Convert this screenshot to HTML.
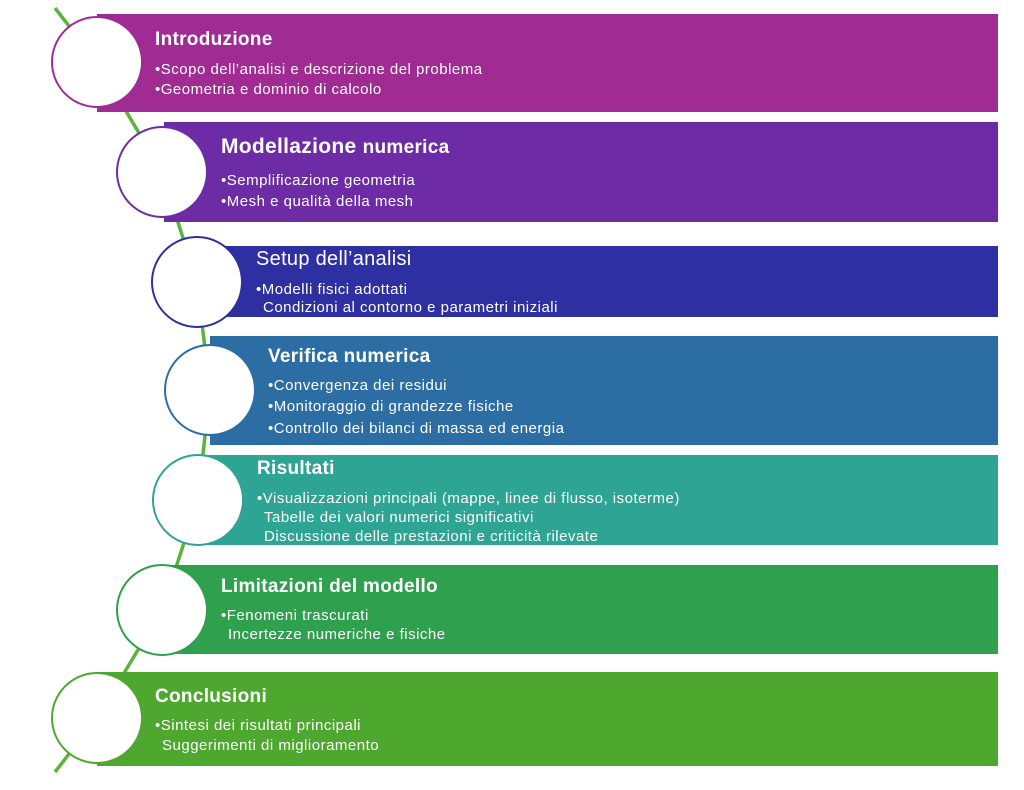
<!DOCTYPE html>
<html><head><meta charset="utf-8"><style>
html,body{margin:0;padding:0;background:#fff;}
svg{display:block;font-family:"Liberation Sans","DejaVu Sans",sans-serif;}
.t{font-size:19px;font-weight:bold;fill:#fff;letter-spacing:0.3px;}
.b{font-size:15px;fill:#fff;letter-spacing:0.5px;}
</style></head><body>
<svg width="1024" height="790" viewBox="0 0 1024 790" xmlns="http://www.w3.org/2000/svg">
<polyline points="55,8 97,62 162,172 197,282 210,390 198,500 162,610 97,718 55,772" fill="none" stroke="#5db33a" stroke-width="3.5"/>
<rect x="97" y="14" width="901" height="98" fill="#a02b93"/>
<rect x="164" y="122" width="834" height="100" fill="#6d2ba6"/>
<rect x="212" y="246" width="786" height="71" fill="#2e2fa0"/>
<rect x="210" y="336" width="788" height="109" fill="#2c6da4"/>
<rect x="200" y="455" width="798" height="90" fill="#2ea494"/>
<rect x="164" y="565" width="834" height="89" fill="#2ea04e"/>
<rect x="97" y="672" width="901" height="94" fill="#4ea72e"/>
<g fill="#fff" stroke-width="2">
<circle cx="97" cy="62" r="45" stroke="#a02b93"/>
<circle cx="162" cy="172" r="45" stroke="#6d2ba6"/>
<circle cx="197" cy="282" r="45" stroke="#2e2fa0"/>
<circle cx="210" cy="390" r="45" stroke="#2c6da4"/>
<circle cx="198" cy="500" r="45" stroke="#2ea494"/>
<circle cx="162" cy="610" r="45" stroke="#2ea04e"/>
<circle cx="97" cy="718" r="45" stroke="#4ea72e"/>
</g>
<text class="t" x="155" y="45">Introduzione</text>
<text class="b" x="155" y="74">•Scopo dell’analisi e descrizione del problema</text>
<text class="b" x="155" y="94">•Geometria e dominio di calcolo</text>
<text class="t" x="221" y="153" style="font-size:21px">Modellazione <tspan style="font-size:19px">numerica</tspan></text>
<text class="b" x="221" y="185">•Semplificazione geometria</text>
<text class="b" x="221" y="206">•Mesh e qualità della mesh</text>
<text class="t" x="256" y="265" style="font-weight:normal;font-size:20px">Setup dell’analisi</text>
<text class="b" x="256" y="294">•Modelli fisici adottati</text>
<text class="b" x="263" y="312">Condizioni al contorno e parametri iniziali</text>
<text class="t" x="268" y="362">Verifica numerica</text>
<text class="b" x="268" y="390">•Convergenza dei residui</text>
<text class="b" x="268" y="411">•Monitoraggio di grandezze fisiche</text>
<text class="b" x="268" y="433">•Controllo dei bilanci di massa ed energia</text>
<text class="t" x="257" y="474">Risultati</text>
<text class="b" x="257" y="503">•Visualizzazioni principali (mappe, linee di flusso, isoterme)</text>
<text class="b" x="264" y="522">Tabelle dei valori numerici significativi</text>
<text class="b" x="264" y="541">Discussione delle prestazioni e criticità rilevate</text>
<text class="t" x="221" y="592">Limitazioni del modello</text>
<text class="b" x="221" y="620">•Fenomeni trascurati</text>
<text class="b" x="228" y="639">Incertezze numeriche e fisiche</text>
<text class="t" x="155" y="702">Conclusioni</text>
<text class="b" x="155" y="730">•Sintesi dei risultati principali</text>
<text class="b" x="162" y="750">Suggerimenti di miglioramento</text>
</svg>
</body></html>
